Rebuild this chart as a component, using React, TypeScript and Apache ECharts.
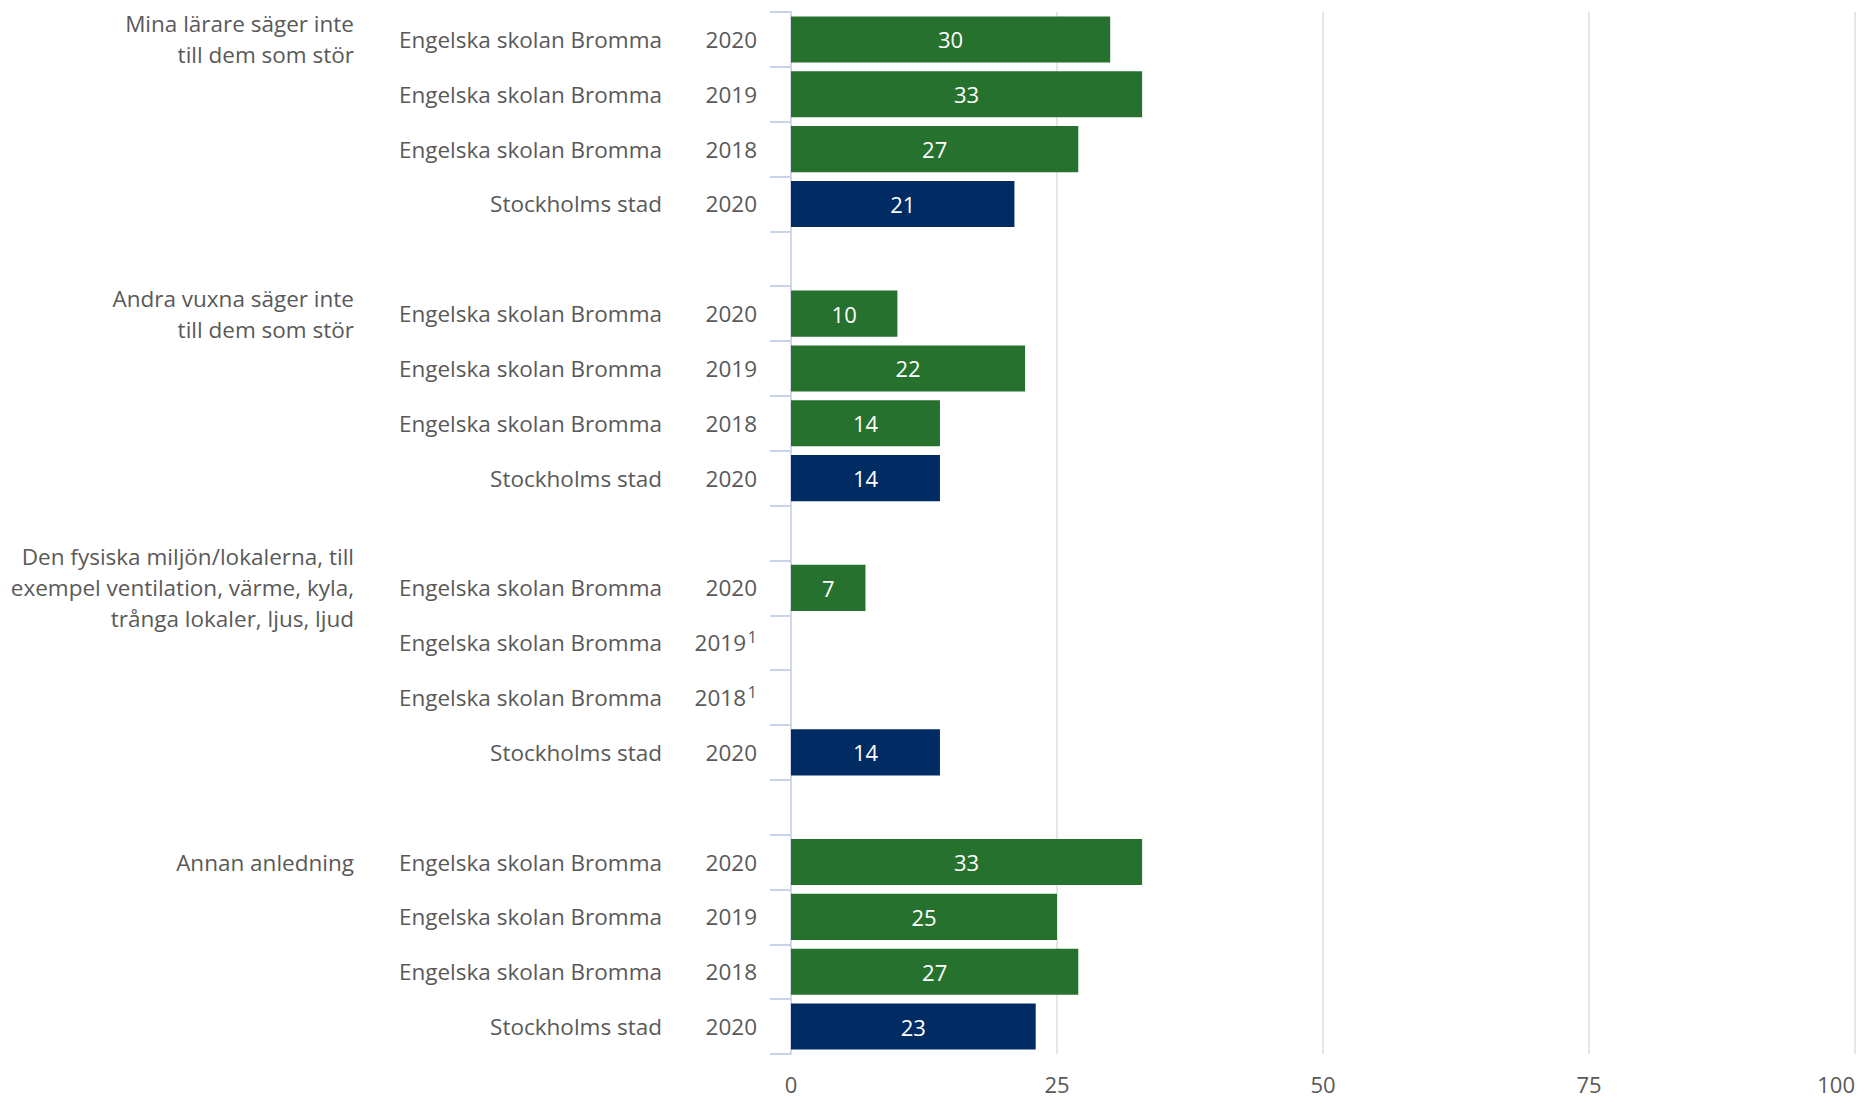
import React, { useEffect, useRef } from "react";
import * as echarts from "echarts";

const groupLabels = [
  "Mina lärare säger inte\ntill dem som stör",
  "Andra vuxna säger inte\ntill dem som stör",
  "Den fysiska miljön/lokalerna, till\nexempel ventilation, värme, kyla,\ntrånga lokaler, ljus, ljud",
  "Annan anledning",
];
const rowNames = ["Engelska skolan Bromma", "Engelska skolan Bromma", "Engelska skolan Bromma", "Stockholms stad"];
const rowYears = ["2020", "2019", "2018", "2020"];
const footnotes = [
  ["", "", "", ""],
  ["", "", "", ""],
  ["", "1", "1", ""],
  ["", "", "", ""],
];
const minaLarare = [30, 33, 27, 21];
const andraVuxna = [10, 22, 14, 14];
const fysiskaMiljon = [7, null, null, 14];
const annanAnledning = [33, 25, 27, 23];
const groupValues = [minaLarare, andraVuxna, fysiskaMiljon, annanAnledning];
const xTicks = [0, 25, 50, 75, 100];

const GREEN = "#27712f";
const NAVY = "#002b63";
const TEXT = "#595959";
const FONT = "Open Sans";
const FS = 22.5;

type Slot = { g: number; r: number } | null;

export default function App() {
  const ref = useRef<HTMLDivElement>(null);
  useEffect(() => {
    if (!ref.current) return;
    const chart = echarts.init(ref.current, null, { renderer: "svg" });

    const slots: Slot[] = [];
    const cats: string[] = [];
    const data: any[] = [];
    groupValues.forEach((vals, g) => {
      vals.forEach((v, r) => {
        slots.push({ g, r });
        cats.push(`${g}-${r}`);
        data.push(
          v === null
            ? "-"
            : { value: v, itemStyle: { color: rowNames[r] === "Stockholms stad" ? NAVY : GREEN } }
        );
      });
      if (g < groupValues.length - 1) {
        slots.push(null);
        cats.push(`gap-${g}`);
        data.push("-");
      }
    });

    chart.setOption({
      animation: false,
      grid: { left: 791, right: 1, top: 12, bottom: 44, containLabel: false },
      xAxis: {
        type: "value",
        min: xTicks[0],
        max: xTicks[xTicks.length - 1],
        interval: 25,
        axisLine: { show: false },
        axisTick: { show: false },
        axisLabel: {
          color: TEXT,
          fontFamily: FONT,
          fontSize: 22,
          lineHeight: 22,
          margin: 19,
          alignMaxLabel: "right",
        },
        splitLine: { show: true, lineStyle: { color: "#dedede", width: 1.5 } },
      },
      yAxis: [
        {
          type: "category",
          inverse: true,
          data: cats,
          axisLine: { show: true, lineStyle: { color: "#d3d8e8", width: 2 } },
          axisTick: { show: true, length: 21, interval: 0, lineStyle: { color: "#c9d3ec", width: 2 } },
          axisLabel: {
            interval: 0,
            margin: 34,
            align: "right",
            formatter: (_v: string, i: number) => {
              const s = slots[i];
              if (!s) return "";
              const fn = footnotes[s.g][s.r];
              if (fn) {
                return `{name|${rowNames[s.r]}}{yearS|${rowYears[s.r]}}{sup|${fn}}`;
              }
              return `{name|${rowNames[s.r]}}{year|${rowYears[s.r]}}`;
            },
            rich: {
              name: { width: 300, align: "right", color: TEXT, fontFamily: FONT, fontSize: FS, lineHeight: 28 },
              year: { width: 95, align: "right", color: TEXT, fontFamily: FONT, fontSize: FS, lineHeight: 28 },
              yearS: { width: 84, align: "right", color: TEXT, fontFamily: FONT, fontSize: FS, lineHeight: 28 },
              sup: { width: 11, align: "right", color: TEXT, fontFamily: FONT, fontSize: 16, verticalAlign: "top", lineHeight: 28, padding: [0, 0, 16, 0] },
            },
          },
          splitLine: { show: false },
        },
        {
          type: "category",
          inverse: true,
          position: "left",
          data: cats,
          axisLine: { show: false },
          axisTick: { show: false },
          axisLabel: {
            interval: 0,
            margin: 437,
            align: "right",
            color: TEXT,
            fontFamily: FONT,
            fontSize: FS,
            lineHeight: 31,
            formatter: (_v: string, i: number) => {
              const s = slots[i];
              if (!s || s.r !== 0) return "";
              return groupLabels[s.g];
            },
          },
          splitLine: { show: false },
        },
      ],
      series: [
        {
          type: "bar",
          yAxisIndex: 0,
          data,
          barWidth: "84%",
          label: {
            show: true,
            position: "inside",
            color: "#ffffff",
            fontFamily: FONT,
            fontSize: 22,
          },
        },
      ],
    });
    return () => chart.dispose();
  }, []);
  return (
    <div
      ref={ref}
      style={{ position: "absolute", left: 0, top: 0, width: 1858, height: 1098, background: "#fff" }}
    />
  );
}
